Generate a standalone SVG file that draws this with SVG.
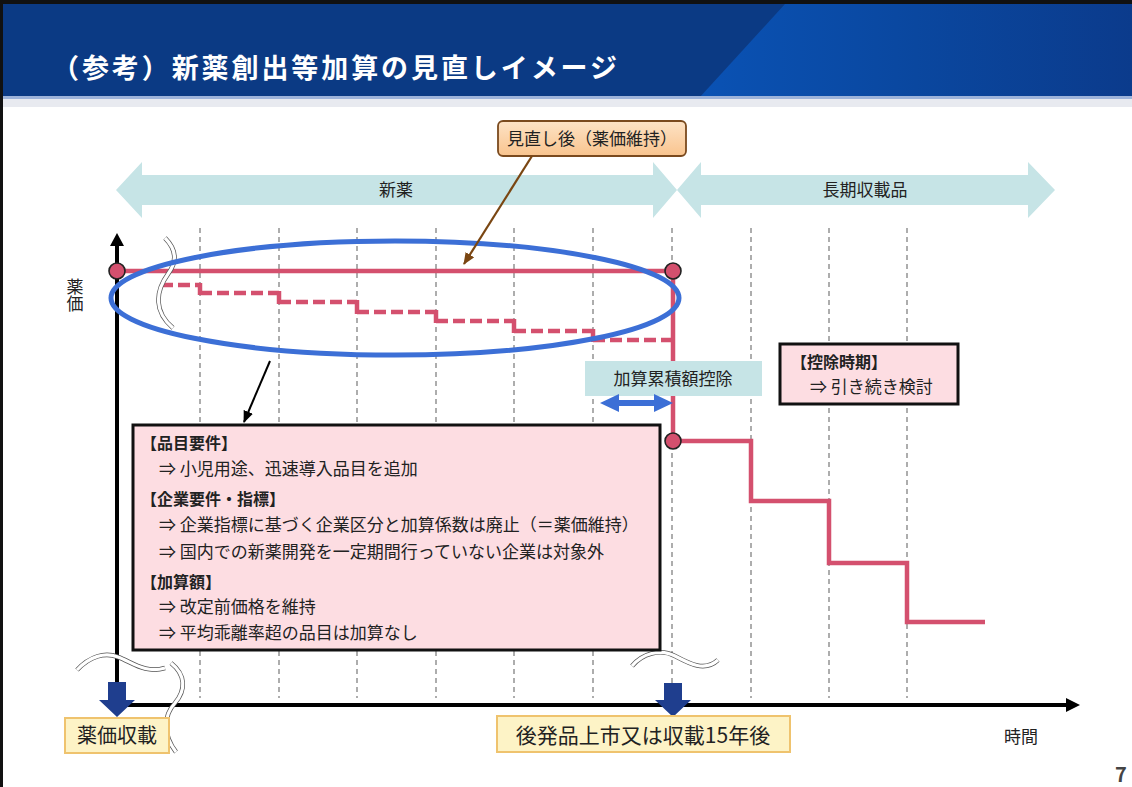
<svg xmlns="http://www.w3.org/2000/svg" width="1132" height="787" viewBox="0 0 1132 787">
<defs>
<linearGradient id="hdrLight" x1="0" y1="0" x2="1" y2="0">
<stop offset="0" stop-color="#0a52b4"/>
<stop offset="0.5" stop-color="#0a479f"/>
<stop offset="1" stop-color="#0b3b8c"/>
</linearGradient>
<linearGradient id="orangeFill" x1="0" y1="0" x2="0" y2="1">
<stop offset="0" stop-color="#fde3c6"/>
<stop offset="1" stop-color="#f9c48e"/>
</linearGradient>
<marker id="brownHead" viewBox="0 0 12 10" refX="11" refY="5" markerWidth="12" markerHeight="10" markerUnits="userSpaceOnUse" orient="auto">
<path d="M0,0 L12,5 L0,10 z" fill="#7a4612"/>
</marker>
<marker id="blackHead" viewBox="0 0 12 10" refX="11" refY="5" markerWidth="12" markerHeight="10" markerUnits="userSpaceOnUse" orient="auto">
<path d="M0,0 L12,5 L0,10 z" fill="#000"/>
</marker>
<style>
.t{font-family:"Noto Sans CJK JP","Noto Sans",sans-serif;fill:#222}
.b{font-weight:bold}
.grid{stroke:#777;stroke-width:1.2;stroke-dasharray:5 4}
.pink{stroke:#d4506e;stroke-width:4.5;fill:none}
.pinkd{stroke:#d4506e;stroke-width:4.5;fill:none;stroke-dasharray:12 5}
.dot{fill:#d4506e;stroke:#222;stroke-width:1.6}
.sqb{fill:none;stroke:#555;stroke-width:4.6}
.sqw{fill:none;stroke:#fff;stroke-width:3.2}
.band{fill:#c6e4e6}
.navy{fill:#1f3e8e}
.ybox{fill:#fdf3c6;stroke:#efc36e;stroke-width:2}
.pbox{fill:#fddde2;stroke:#111;stroke-width:3}
</style>
</defs>

<rect x="0" y="0" width="1132" height="787" fill="#fff"/>

<g id="header">
<rect x="0" y="0" width="1132" height="98" fill="#0b3a84"/>
<polygon points="785,4 1132,4 1132,97 700,97" fill="url(#hdrLight)"/>
<rect x="0" y="0" width="1132" height="4" fill="#111"/>
<rect x="0" y="96" width="1132" height="3" fill="#9db3da"/>
<rect x="0" y="99" width="1132" height="8" fill="#e8eaf0"/>
<text class="t b" x="52" y="78" font-size="27" style="fill:#fff" textLength="565" lengthAdjust="spacing">（参考）新薬創出等加算の見直しイメージ</text>
</g>
<rect id="frame-left" x="0" y="0" width="3" height="787" fill="#111"/>

<g id="grid">
<line class="grid" x1="200" y1="228" x2="200" y2="698"/>
<line class="grid" x1="279" y1="228" x2="279" y2="698"/>
<line class="grid" x1="357" y1="228" x2="357" y2="698"/>
<line class="grid" x1="436" y1="228" x2="436" y2="698"/>
<line class="grid" x1="514" y1="228" x2="514" y2="698"/>
<line class="grid" x1="593" y1="228" x2="593" y2="698"/>
<line class="grid" x1="672" y1="228" x2="672" y2="698"/>
<line class="grid" x1="751" y1="228" x2="751" y2="698"/>
<line class="grid" x1="829" y1="228" x2="829" y2="698"/>
<line class="grid" x1="907" y1="228" x2="907" y2="698"/>
</g>

<g id="band-shinyaku">
<polygon class="band" points="116,190 142,162 142,175 653,175 653,162 677,190 653,218 653,205 142,205 142,218"/>
<text class="t" x="396" y="196" font-size="17" text-anchor="middle">新薬</text>
</g>
<g id="band-choki">
<polygon class="band" points="677,190 701,162 701,175 1028,175 1028,162 1055,190 1028,218 1028,205 701,205 701,218"/>
<text class="t" x="865" y="196" font-size="17" text-anchor="middle">長期収載品</text>
</g>

<g id="axes">
<line x1="117" y1="245" x2="117" y2="690" stroke="#000" stroke-width="4"/>
<polygon points="117,233 110,246 124,246" fill="#000"/>
<line x1="117" y1="705" x2="1068" y2="705" stroke="#000" stroke-width="4"/>
<polygon points="1080,705 1066,698 1066,712" fill="#000"/>
<text class="t" x="75" y="278" font-size="17" writing-mode="vertical-rl">薬価</text>
<text class="t" x="1021" y="743" font-size="17" text-anchor="middle">時間</text>
</g>

<g id="price-after">
<line class="pink" x1="117" y1="271" x2="673" y2="271"/>
<line class="pink" x1="673" y1="271" x2="673" y2="441"/>
<polyline class="pink" points="673,441 751,441 751,501 829,501 829,563 907,563 907,622 985,622"/>
</g>

<g id="price-before">
<line class="pinkd" x1="161" y1="285" x2="200" y2="285"/>
<line class="pink" x1="200" y1="283" x2="200" y2="295"/>
<line class="pinkd" x1="200" y1="293" x2="279" y2="293"/>
<line class="pink" x1="279" y1="291" x2="279" y2="304"/>
<line class="pinkd" x1="279" y1="302" x2="357" y2="302"/>
<line class="pink" x1="357" y1="300" x2="357" y2="314"/>
<line class="pinkd" x1="357" y1="312" x2="436" y2="312"/>
<line class="pink" x1="436" y1="310" x2="436" y2="323"/>
<line class="pinkd" x1="436" y1="321" x2="514" y2="321"/>
<line class="pink" x1="514" y1="319" x2="514" y2="333"/>
<line class="pinkd" x1="514" y1="331" x2="593" y2="331"/>
<line class="pink" x1="593" y1="329" x2="593" y2="342"/>
<line class="pinkd" x1="593" y1="340" x2="671" y2="340"/>
</g>

<g id="breaks">
<path class="sqb" d="M165,238 C177,250 177,262 168,274 C155,292 154,312 173,328"/>
<path class="sqw" d="M165,238 C177,250 177,262 168,274 C155,292 154,312 173,328"/>
<path class="sqb" d="M77,670 C90,656 105,652 118,657 C132,662 145,674 165,668"/>
<path class="sqw" d="M77,670 C90,656 105,652 118,657 C132,662 145,674 165,668"/>
<path class="sqb" d="M171,663 C186,675 186,690 175,703 C163,716 163,735 176,752"/>
<path class="sqw" d="M171,663 C186,675 186,690 175,703 C163,716 163,735 176,752"/>
<path class="sqb" d="M632,666 C642,654 660,648 675,656 C690,664 705,672 718,660"/>
<path class="sqw" d="M632,666 C642,654 660,648 675,656 C690,664 705,672 718,660"/>
</g>

<g id="ellipse">
<ellipse cx="395" cy="298" rx="284" ry="57" fill="none" stroke="#3c6fd6" stroke-width="5"/>
</g>

<g id="dots">
<circle class="dot" cx="117" cy="271" r="8"/>
<circle class="dot" cx="673" cy="271" r="8"/>
<circle class="dot" cx="673" cy="441" r="8"/>
</g>

<g id="box-minaoshi">
<rect x="498" y="121" width="188" height="35" rx="5" fill="url(#orangeFill)" stroke="#7a4a1e" stroke-width="1.8"/>
<text class="t" x="592" y="145" font-size="17" text-anchor="middle">見直し後（薬価維持）</text>
</g>

<g id="box-kasan">
<rect x="585" y="361" width="177" height="35" fill="#c6e4e6"/>
<text class="t" x="673" y="385" font-size="17" text-anchor="middle">加算累積額控除</text>
</g>

<g id="box-kojo">
<rect class="pbox" x="780" y="344" width="178" height="60"/>
<text class="t b" x="791" y="368" font-size="16">【控除時期】</text>
<text class="t" x="810" y="393" font-size="17">⇒ 引き続き検討</text>
</g>

<g id="box-main">
<rect class="pbox" x="133" y="425" width="527" height="225"/>
<text class="t b" x="141" y="449" font-size="16">【品目要件】</text>
<text class="t" x="159" y="475" font-size="17">⇒ 小児用途、迅速導入品目を追加</text>
<text class="t b" x="141" y="505" font-size="16">【企業要件・指標】</text>
<text class="t" x="159" y="531" font-size="17">⇒ 企業指標に基づく企業区分と加算係数は廃止（＝薬価維持）</text>
<text class="t" x="159" y="558" font-size="17">⇒ 国内での新薬開発を一定期間行っていない企業は対象外</text>
<text class="t b" x="141" y="588" font-size="16">【加算額】</text>
<text class="t" x="159" y="613" font-size="17">⇒ 改定前価格を維持</text>
<text class="t" x="159" y="639" font-size="17">⇒ 平均乖離率超の品目は加算なし</text>
</g>

<g id="connectors">
<line x1="532" y1="156" x2="464" y2="264" stroke="#7a4612" stroke-width="2.2" marker-end="url(#brownHead)"/>
<line x1="270" y1="361" x2="244" y2="422" stroke="#000" stroke-width="2" marker-end="url(#blackHead)"/>
<polygon points="600,403 619,394 619,400 654,400 654,394 673,403 654,412 654,406 619,406 619,412" fill="#3c6fd6"/>
<polygon class="navy" points="108,682 126,682 126,700 135,700 117,717 99,700 108,700"/>
<polygon class="navy" points="664,683 682,683 682,700 691,700 673,717 655,700 664,700"/>
</g>

<g id="label-shusai">
<rect class="ybox" x="65" y="718" width="104" height="35"/>
<text class="t" x="117" y="743" font-size="20" text-anchor="middle">薬価収載</text>
</g>
<g id="label-kohatsu">
<rect class="ybox" x="497" y="716" width="293" height="36"/>
<text class="t" x="643" y="743" font-size="21" text-anchor="middle">後発品上市又は収載15年後</text>
</g>

<text class="t b" x="1115" y="782" font-size="20" style="fill:#444">7</text>
</svg>
